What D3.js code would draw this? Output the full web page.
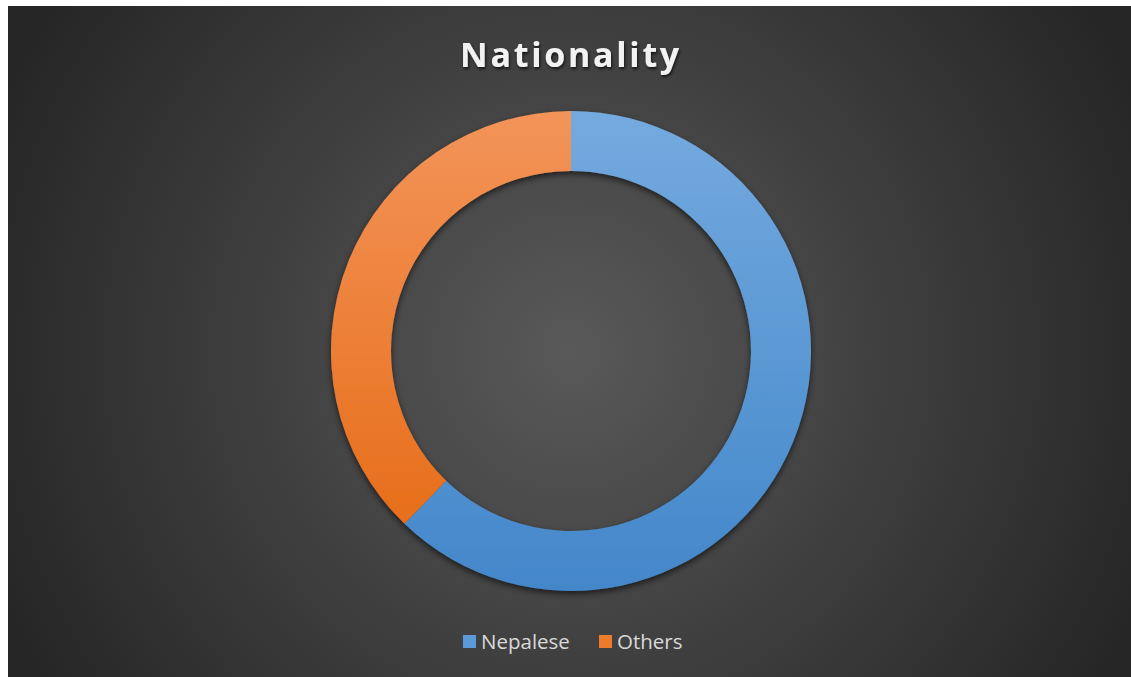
<!DOCTYPE html>
<html>
<head>
<meta charset="utf-8">
<script src="https://cdn.jsdelivr.net/npm/d3@7"></script>
<style>
  body { margin: 0; background: #fff; }
  svg { display: block; }
</style>
</head>
<body>
<div class="chart"></div>
<script>
// values
const categories = ['Nepalese', 'Others']
const values = [62.2, 37.8]
const colorsTop = ['#74aadf', '#f39459']
const colorsBottom = ['#4387ca', '#e56810']
const legendColors = ['#5a9ad8', '#ee7a2c']

const width = 1131, height = 677
const box = {x: 8, y: 6, w: width - 8, h: height - 6}
const cx = 571, cy = 351
const outerR = 240, innerR = 180

const svg = d3.select('.chart')
  .append('svg')
  .attr('width', width)
  .attr('height', height)

const defs = svg.append('defs')

const bg = defs.append('radialGradient')
  .attr('id', 'bg')
  .attr('gradientUnits', 'userSpaceOnUse')
  .attr('cx', cx).attr('cy', cy).attr('r', 620)
bg.append('stop').attr('offset', '0%').attr('stop-color', '#595959')
bg.append('stop').attr('offset', '100%').attr('stop-color', '#262626')

// gradients are in the ring group's coordinates (centre at 0,0)
categories.forEach((c, i) => {
  const g = defs.append('linearGradient')
    .attr('id', 'grad' + i)
    .attr('gradientUnits', 'userSpaceOnUse')
    .attr('x1', 0).attr('y1', -outerR)
    .attr('x2', 0).attr('y2', outerR)
  g.append('stop').attr('offset', '0%').attr('stop-color', colorsTop[i])
  g.append('stop').attr('offset', '100%').attr('stop-color', colorsBottom[i])
})

const shadow = defs.append('filter').attr('id', 'shadow')
  .attr('x', '-20%').attr('y', '-20%').attr('width', '140%').attr('height', '140%')
shadow.append('feDropShadow')
  .attr('dx', 0).attr('dy', 3).attr('stdDeviation', 3)
  .attr('flood-color', '#000').attr('flood-opacity', 0.6)

const txtShadow = defs.append('filter').attr('id', 'tshadow')
txtShadow.append('feDropShadow')
  .attr('dx', 1).attr('dy', 2).attr('stdDeviation', 1.5)
  .attr('flood-color', '#000').attr('flood-opacity', 0.7)

svg.append('rect')
  .attr('x', box.x).attr('y', box.y)
  .attr('width', box.w).attr('height', box.h)
  .attr('fill', 'url(#bg)')

svg.append('text')
  .attr('x', cx)
  .attr('y', 67)
  .attr('text-anchor', 'middle')
  .attr('font-family', 'Open Sans, sans-serif')
  .attr('font-weight', 'bold')
  .attr('font-size', 34)
  .attr('letter-spacing', 2.7)
  .attr('fill', '#f2f2f2')
  .attr('filter', 'url(#tshadow)')
  .text('Nationality')

const pie = d3.pie().sort(null).value(d => d)
const arc = d3.arc().innerRadius(innerR).outerRadius(outerR)

const ring = svg.append('g')
  .attr('transform', `translate(${cx},${cy})`)
  .attr('filter', 'url(#shadow)')

ring.selectAll('path')
  .data(pie(values))
  .enter()
  .append('path')
  .attr('d', arc)
  .attr('fill', (d, i) => `url(#grad${i})`)

// legend
const legendX = [463, 599]
const legend = svg.append('g')
legend.selectAll('rect')
  .data(categories)
  .enter()
  .append('rect')
  .attr('x', (d, i) => legendX[i])
  .attr('y', 635)
  .attr('width', 13).attr('height', 13)
  .attr('fill', (d, i) => legendColors[i])

legend.selectAll('text')
  .data(categories)
  .enter()
  .append('text')
  .attr('x', (d, i) => legendX[i] + 18)
  .attr('y', 649)
  .attr('font-family', 'Open Sans, sans-serif')
  .attr('font-size', 20.5)
  .attr('fill', '#d9d9d9')
  .text(d => d)
</script>
</body>
</html>
